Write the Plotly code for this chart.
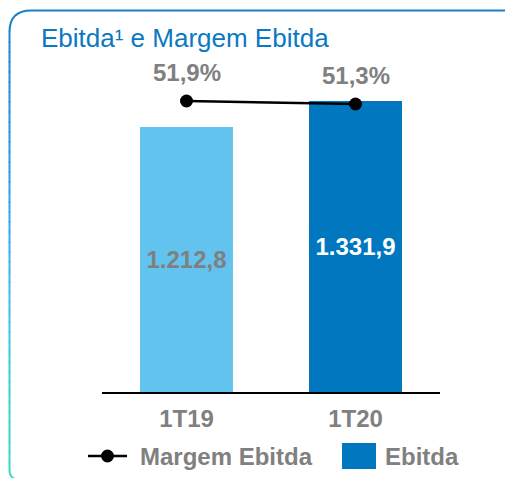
import plotly.graph_objects as go

categories = ["1T19", "1T20"]
ebitda = [1212.8, 1331.9]
margem = [51.9, 51.3]
bar_colors = ["#62C4EE", "#0077BE"]
bar_text_colors = ["#7F7F7F", "#FFFFFF"]

# The page body has an 8px margin; positions below are given in page pixels.
OFF = 8
W, H = 513, 478
PLOT_L, PLOT_R, PLOT_T, PLOT_B = 102, 440, 60, 392
ML = PLOT_L - OFF
MR = W - (PLOT_R - OFF)
MT = PLOT_T - OFF
MB = H - (PLOT_B - OFF)
PW, PH = PLOT_R - PLOT_L, PLOT_B - PLOT_T

def px(x):
    return (x - PLOT_L) / PW

def py(y):
    return (PLOT_B - y) / PH

FONT = "Arial, Liberation Sans, sans-serif"
GRAY = "#808080"
BOLD = 24

fig = go.Figure()
fig.add_trace(go.Bar(
    x=categories, y=ebitda, marker=dict(color=bar_colors, line=dict(width=0)),
    width=0.55, texttemplate="<b>%{y:,.1f}</b>", textposition="inside",
    insidetextanchor="middle", textangle=0,
    textfont=dict(family=FONT, size=BOLD, color=bar_text_colors),
    showlegend=False, yaxis="y"))
fig.add_trace(go.Scatter(
    x=categories, y=margem, mode="lines+markers",
    line=dict(color="#000000", width=2.5),
    marker=dict(color="#000000", size=13),
    showlegend=False, yaxis="y2"))

annotations = []
for c, m in zip(categories, margem):
    annotations.append(dict(
        x=c, y=m, xref="x", yref="y2", text="<b>" + f"{m:.1f}".replace(".", ",") + "%</b>",
        showarrow=False, yshift=29, font=dict(family=FONT, size=BOLD, color=GRAY)))

# Title
annotations.append(dict(x=px(39), y=py(38), xref="paper", yref="paper", xanchor="left",
                        yanchor="middle", showarrow=False,
                        text="Ebitda\u00b9 e Margem Ebitda",
                        font=dict(family=FONT, size=26, color="#0A78C2")))
# Legend texts
annotations.append(dict(x=px(138), y=py(456), xref="paper", yref="paper", xanchor="left",
                        yanchor="middle", showarrow=False, text="<b>Margem Ebitda</b>",
                        font=dict(family=FONT, size=BOLD, color=GRAY)))
annotations.append(dict(x=px(383), y=py(456), xref="paper", yref="paper", xanchor="left",
                        yanchor="middle", showarrow=False, text="<b>Ebitda</b>",
                        font=dict(family=FONT, size=BOLD, color=GRAY)))

shapes = []
# Legend symbols
shapes.append(dict(type="line", xref="paper", yref="paper", x0=px(88), x1=px(127),
                   y0=py(456), y1=py(456), line=dict(color="#000000", width=2.5)))
shapes.append(dict(type="circle", xref="paper", yref="paper", x0=px(101), x1=px(114),
                   y0=py(449.5), y1=py(462.5), fillcolor="#000000", line=dict(width=0)))
shapes.append(dict(type="rect", xref="paper", yref="paper", x0=px(342), x1=px(376),
                   y0=py(443), y1=py(469), fillcolor="#0077BE", line=dict(width=0)))

def P(x, y):
    return f"{px(x)},{py(y)}"

# Border: top with rounded corners
shapes.append(dict(type="path", xref="paper", yref="paper",
                   path=f"M {P(9.5,32)} Q {P(9.5,10.5)} {P(31,10.5)} L {P(503,10.5)} Q {P(511,10.5)} {P(513,14)}",
                   line=dict(color="#1A7FC6", width=2)))
# Left edge gradient
stops = [(32, (0x1E, 0x86, 0xCC)), (150, (0x2A, 0x98, 0xDE)), (300, (0x3C, 0xBF, 0xF0)),
         (400, (0x3E, 0xD4, 0xCC)), (470, (0x3E, 0xD8, 0xC4))]

def col(y):
    for (y0, c0), (y1, c1) in zip(stops[:-1], stops[1:]):
        if y0 <= y <= y1:
            t = (y - y0) / (y1 - y0)
            return "rgb(%d,%d,%d)" % tuple(round(a + (b - a) * t) for a, b in zip(c0, c1))
    return "rgb(62,216,196)"

y = 32
while y < 470:
    y2 = min(y + 10, 470)
    shapes.append(dict(type="line", xref="paper", yref="paper", x0=px(9.5), x1=px(9.5),
                       y0=py(y - 0.5), y1=py(y2 + 0.5), line=dict(color=col((y + y2) / 2), width=2)))
    y = y2
shapes.append(dict(type="path", xref="paper", yref="paper",
                   path=f"M {P(9.5,470)} Q {P(9.5,477)} {P(15,479)}",
                   line=dict(color="rgb(62,216,196)", width=2)))

fig.update_layout(
    width=W, height=H, margin=dict(l=ML, r=MR, t=MT, b=MB),
    paper_bgcolor="white", plot_bgcolor="white", separators=",.",
    xaxis=dict(range=[-0.5, 1.5], showline=True, linecolor="#000000", linewidth=2,
               showgrid=False, zeroline=False, ticks="outside", ticklen=4,
               tickcolor="rgba(0,0,0,0)",
               tickprefix="<b>", ticksuffix="</b>",
               tickfont=dict(family=FONT, size=BOLD, color=GRAY)),
    yaxis=dict(range=[0, 1520], visible=False, showgrid=False),
    yaxis2=dict(range=[-6.3, 60.1], overlaying="y", visible=False, showgrid=False),
    annotations=annotations, shapes=shapes, showlegend=False,
)

fig.write_html("out.html")
